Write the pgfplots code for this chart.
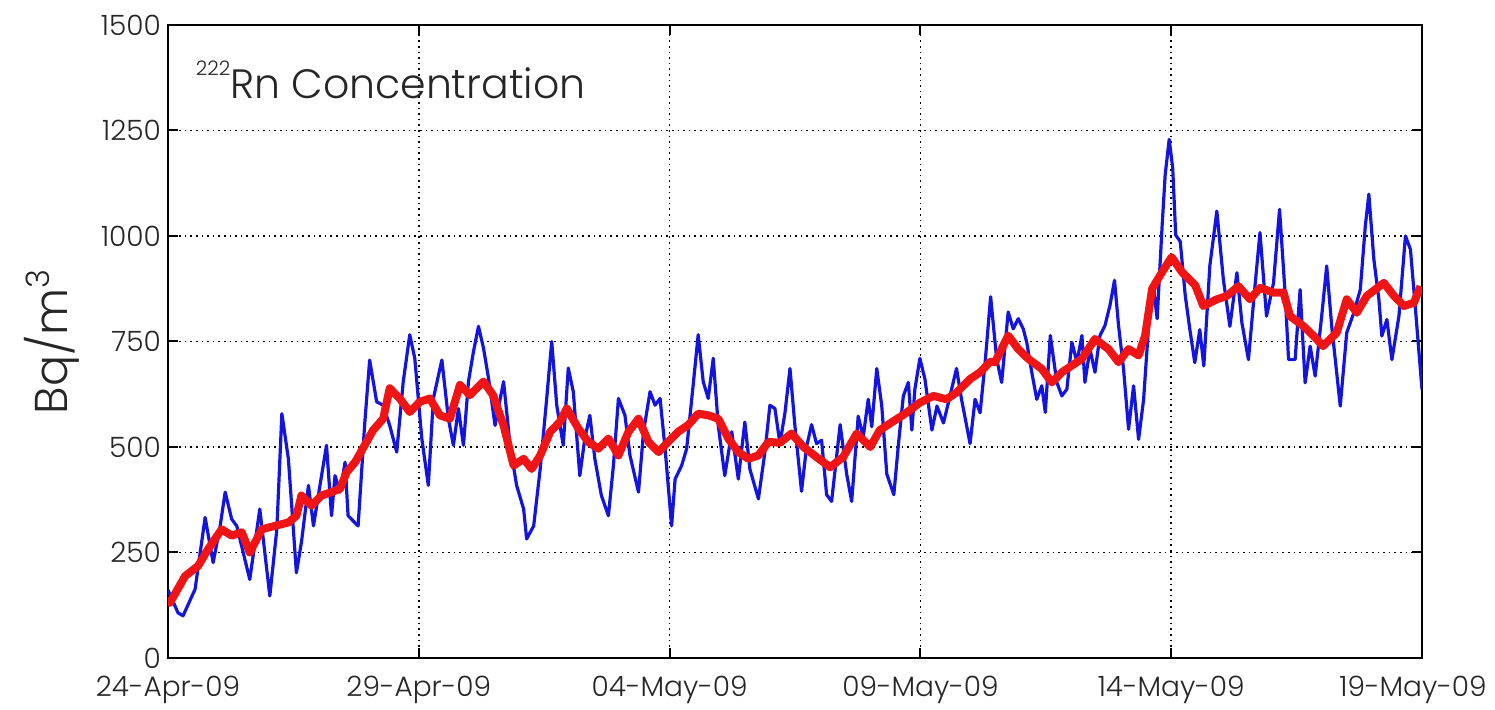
\documentclass[border=0pt]{standalone}
\usepackage{fontspec}
\setmainfont{Poppins}[UprightFont=* Light]
\usepackage{pgfplots}
\pgfplotsset{compat=1.18}

% days after 24-Apr-09, Bq/m^3
\pgfplotstableread{
day val
0.00 161
0.20 107
0.30 100
0.54 163
0.74 333
0.90 226
1.04 313
1.14 393
1.27 329
1.37 313
1.63 186
1.83 353
2.03 147
2.17 305
2.27 579
2.40 472
2.56 202
2.66 274
2.80 409
2.90 313
3.03 409
3.16 504
3.26 337
3.33 432
3.43 393
3.53 464
3.59 337
3.79 313
3.92 552
4.02 706
4.16 607
4.29 599
4.42 551
4.56 488
4.69 655
4.82 766
4.92 710
5.06 520
5.19 409
5.29 615
5.46 706
5.59 567
5.69 504
5.79 591
5.89 504
5.99 655
6.09 726
6.19 786
6.29 734
6.39 663
6.52 551
6.69 655
6.82 504
6.95 409
7.09 353
7.15 282
7.29 313
7.42 448
7.55 615
7.65 750
7.75 599
7.88 504
7.98 687
8.08 631
8.21 432
8.31 520
8.41 575
8.51 472
8.64 385
8.78 337
8.88 456
8.98 615
9.11 575
9.21 480
9.38 393
9.48 536
9.61 631
9.71 599
9.81 615
9.91 496
10.04 313
10.11 424
10.24 456
10.34 496
10.47 647
10.57 766
10.67 655
10.77 615
10.87 710
10.97 551
11.10 432
11.24 536
11.37 424
11.50 559
11.60 448
11.77 377
11.90 488
12.00 599
12.10 591
12.20 508
12.30 581
12.40 686
12.50 548
12.63 395
12.73 500
12.83 553
12.93 508
13.03 516
13.13 387
13.23 371
13.40 553
13.53 436
13.63 371
13.76 573
13.86 524
13.96 613
14.03 548
14.13 686
14.23 597
14.33 436
14.47 387
14.57 516
14.66 621
14.76 653
14.83 540
14.89 637
14.99 710
15.09 661
15.23 540
15.33 597
15.46 557
15.59 621
15.72 686
15.82 613
15.99 508
16.09 613
16.19 581
16.29 700
16.40 856
16.52 709
16.62 653
16.75 820
16.85 780
16.95 804
17.05 780
17.12 748
17.22 677
17.32 613
17.42 645
17.49 582
17.59 764
17.72 653
17.82 621
17.92 637
18.02 748
18.12 701
18.22 764
18.28 653
18.38 732
18.48 677
18.58 764
18.68 788
18.78 836
18.87 895
18.95 788
19.05 685
19.15 542
19.25 645
19.35 518
19.45 613
19.55 788
19.65 875
19.72 804
19.82 1026
19.88 1145
19.96 1229
20.03 1161
20.09 1002
20.18 987
20.28 859
20.37 780
20.47 700
20.57 778
20.65 692
20.77 929
20.91 1059
21.04 897
21.17 786
21.31 913
21.41 794
21.54 707
21.67 881
21.77 1008
21.90 810
22.04 889
22.16 1063
22.27 866
22.34 707
22.47 707
22.57 873
22.67 652
22.77 739
22.87 668
23.00 810
23.10 929
23.20 786
23.37 597
23.50 771
23.64 818
23.77 873
23.87 1024
23.94 1099
24.04 945
24.14 850
24.20 763
24.30 802
24.40 707
24.54 810
24.67 1000
24.77 968
24.87 826
25.00 636
}\rawdata

\pgfplotstableread{
day val
0.00 140
0.04 131
0.34 194
0.60 218
0.80 258
1.07 305
1.27 290
1.47 298
1.63 250
1.87 305
2.13 313
2.40 321
2.56 337
2.66 385
2.86 361
3.06 385
3.26 393
3.43 401
3.56 440
3.73 464
3.92 504
4.09 540
4.29 567
4.42 639
4.62 615
4.82 583
5.02 607
5.22 615
5.42 575
5.62 567
5.82 647
6.02 623
6.29 655
6.48 623
6.69 551
6.89 456
7.09 472
7.25 448
7.42 480
7.62 536
7.81 559
7.95 591
8.18 544
8.38 512
8.58 496
8.78 520
8.98 480
9.18 536
9.38 567
9.58 512
9.78 488
9.97 512
10.17 536
10.37 552
10.57 579
10.77 575
10.97 567
11.17 520
11.37 488
11.57 472
11.77 480
11.97 512
12.20 510
12.43 532
12.67 500
12.93 476
13.20 452
13.46 476
13.73 532
14.00 500
14.19 540
14.46 561
14.72 581
14.99 605
15.26 621
15.52 613
15.72 629
15.99 661
16.19 677
16.39 702
16.49 701
16.75 764
16.95 732
17.15 709
17.42 685
17.62 653
17.82 677
18.02 693
18.22 709
18.48 756
18.75 732
18.95 701
19.15 732
19.35 717
19.48 764
19.62 875
19.82 915
20.01 950
20.21 915
20.48 883
20.64 834
20.91 850
21.11 858
21.34 881
21.57 850
21.77 877
22.04 866
22.24 866
22.37 810
22.64 786
22.84 763
23.03 739
23.30 771
23.50 850
23.70 818
23.90 858
24.24 889
24.44 858
24.64 834
24.84 842
24.97 881
}\smoothdata

\begin{document}
\begin{tikzpicture}
\begin{axis}[
  scale only axis,
  width=627pt, height=316.5pt,
  xmin=0, xmax=25, ymin=0, ymax=1500,
  xtick={0,5,10,15,20,25},
  xticklabels={24-Apr-09,29-Apr-09,04-May-09,09-May-09,14-May-09,{\hspace*{-9pt}19-May-09}},
  ytick={0,250,500,750,1000,1250,1500},
  /pgf/number format/1000 sep={},
  /pgf/number format/assume math mode=true,
  tick align=inside,
  major tick length=5pt,
  grid=major,
  major grid style={black, line width=0.8pt, dotted},
  axis line style={line width=1pt},
  tick style={line width=1pt, black},
  ticklabel style={font=\fontsize{14}{17}\selectfont, text=black!85},
  xticklabel style={yshift=-5.5pt},
  ylabel={Bq/m$^{\mathrm{3}}$},
  ylabel style={font=\fontsize{23}{26}\selectfont, text=black!85, yshift=4pt},
  clip=true,
]
\addplot[color={rgb,255:red,20;green,20;blue,225}, line width=1.6pt, line join=round] table[x=day, y=val] {\rawdata};
\addplot[color={rgb,255:red,240;green,20;blue,20}, line width=4pt, line join=round] table[x=day, y=val] {\smoothdata};
\node[anchor=west, font=\fontsize{20.5}{24}\selectfont, text=black!85, inner sep=0pt] at (rel axis cs:0.022,0.913) {\raisebox{0.55em}{\fontsize{10}{12}\selectfont 222}Rn Concentration};
\end{axis}
\pgfresetboundingbox
\path (current axis.south west) ++(-84pt,-26pt) coordinate (bbA);
\path (current axis.north east) ++(36.5pt,12.5pt) coordinate (bbB);
\path (bbA) rectangle (bbB);
\end{tikzpicture}
\end{document}
